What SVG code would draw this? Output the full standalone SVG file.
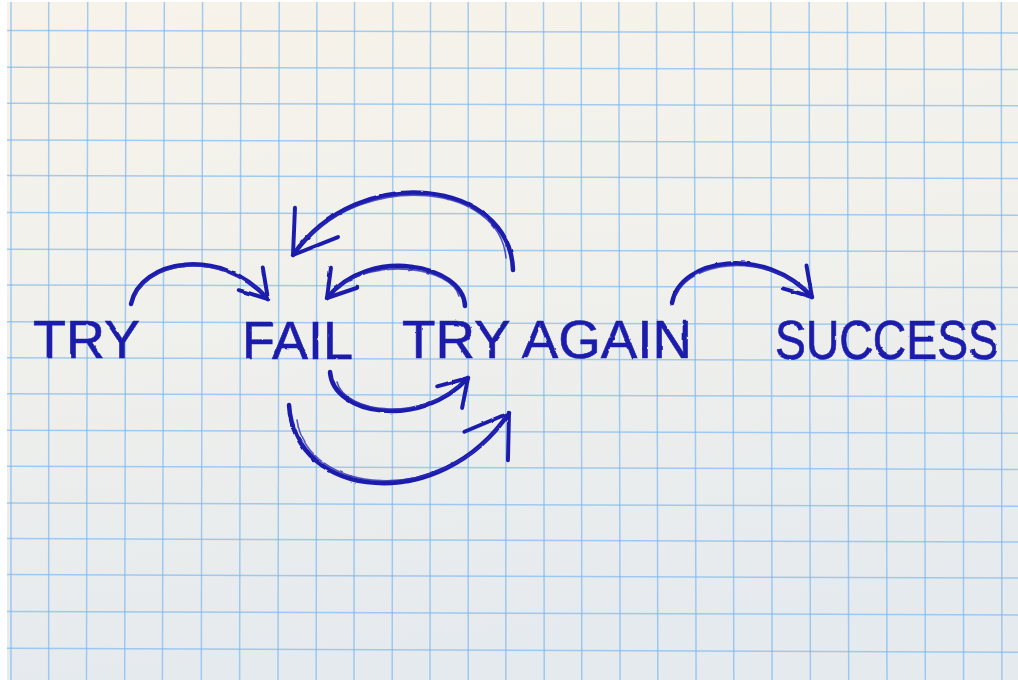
<svg xmlns="http://www.w3.org/2000/svg" width="1018" height="680" viewBox="0 0 1018 680">
  <defs>
    <linearGradient id="paper" x1="0" y1="0" x2="0.15" y2="1">
      <stop offset="0" stop-color="#f7f3ea"/>
      <stop offset="0.5" stop-color="#f0f0ec"/>
      <stop offset="1" stop-color="#e5eaee"/>
    </linearGradient>
    <filter id="rough" x="-10%" y="-10%" width="120%" height="120%">
      <feTurbulence type="fractalNoise" baseFrequency="0.09" numOctaves="2" seed="3" result="n"/>
      <feDisplacementMap in="SourceGraphic" in2="n" scale="2.2" xChannelSelector="R" yChannelSelector="G"/>
    </filter>
    <marker id="head-s" markerUnits="userSpaceOnUse" markerWidth="40" markerHeight="40" viewBox="-34 -20 40 40" refX="0" refY="0" orient="auto" overflow="visible">
      <path d="M-27,-17 L0,0 L-26,16" fill="none" stroke="#1e1eac" stroke-width="4" stroke-linecap="round" stroke-linejoin="round"/>
    </marker>
    <marker id="head-l" markerUnits="userSpaceOnUse" markerWidth="60" markerHeight="60" viewBox="-52 -34 60 68" refX="0" refY="0" orient="auto" overflow="visible">
      <path d="M-46,-30 L0,0 L-45,29" fill="none" stroke="#1e1eac" stroke-width="4.5" stroke-linecap="round" stroke-linejoin="round"/>
    </marker>
    <style>
      .grid line { stroke: #78b6f2; stroke-width: 1.5; opacity: 0.65; }
      .label { font-family: "Liberation Sans", Arial, sans-serif; fill: #1e1eac; stroke: #1e1eac; stroke-width: 0.6; }
      .arc { fill: none; stroke: #1e1eac; stroke-width: 4.5; stroke-linecap: round; }
      .arc2 { fill: none; stroke: #2a2ab8; stroke-width: 1.6; stroke-linecap: round; opacity: 0.8; }
    </style>
  </defs>

  <rect x="0" y="0" width="1018" height="680" fill="#ffffff"/>
  <rect x="7" y="2" width="1011" height="678" fill="url(#paper)"/>

  <g class="grid" id="grid">
    <line x1="11" y1="2" x2="11" y2="680"/>
    <line x1="48.7" y1="2" x2="48.7" y2="680"/>
    <line x1="87.7" y1="2" x2="86.5" y2="680"/>
    <line x1="126" y1="2" x2="124.7" y2="680"/>
    <line x1="164.3" y1="2" x2="162.4" y2="680"/>
    <line x1="202.6" y1="2" x2="201.3" y2="680"/>
    <line x1="240.9" y1="2" x2="239.6" y2="680"/>
    <line x1="279.2" y1="2" x2="278" y2="680"/>
    <line x1="316.9" y1="2" x2="316.2" y2="680"/>
    <line x1="354.5" y1="2" x2="354" y2="680"/>
    <line x1="392.9" y1="2" x2="392.2" y2="680"/>
    <line x1="430.5" y1="2" x2="430" y2="680"/>
    <line x1="468.2" y1="2" x2="468.2" y2="680"/>
    <line x1="505.8" y1="2" x2="505.8" y2="680"/>
    <line x1="543.5" y1="2" x2="544.2" y2="680"/>
    <line x1="581.2" y1="2" x2="581.8" y2="680"/>
    <line x1="618.8" y1="2" x2="620.1" y2="680"/>
    <line x1="656.5" y1="2" x2="657.8" y2="680"/>
    <line x1="694.2" y1="2" x2="696.1" y2="680"/>
    <line x1="732.5" y1="2" x2="733.8" y2="680"/>
    <line x1="770.8" y1="2" x2="772.1" y2="680"/>
    <line x1="809.1" y1="2" x2="810.4" y2="680"/>
    <line x1="847.4" y1="2" x2="848.7" y2="680"/>
    <line x1="885.7" y1="2" x2="887" y2="680"/>
    <line x1="924" y1="2" x2="925.3" y2="680"/>
    <line x1="963" y1="2" x2="963.6" y2="680"/>
    <line x1="1001.3" y1="2" x2="1001.9" y2="680"/>

    <line x1="7" y1="30.4" x2="1018" y2="33"/>
    <line x1="7" y1="67.2" x2="1018" y2="69.5"/>
    <line x1="7" y1="103.2" x2="1018" y2="105.8"/>
    <line x1="7" y1="140.1" x2="1018" y2="142.6"/>
    <line x1="7" y1="175.6" x2="1018" y2="178.4"/>
    <line x1="7" y1="212.5" x2="1018" y2="215.2"/>
    <line x1="7" y1="249.3" x2="1018" y2="251.6"/>
    <line x1="7" y1="284.9" x2="1018" y2="287.6"/>
    <line x1="7" y1="321.8" x2="1018" y2="324.6"/>
    <line x1="7" y1="357.8" x2="1018" y2="360.7"/>
    <line x1="7" y1="393.8" x2="1018" y2="396.8"/>
    <line x1="7" y1="430.2" x2="1018" y2="433.3"/>
    <line x1="7" y1="466.2" x2="1018" y2="469.4"/>
    <line x1="7" y1="503" x2="1018" y2="506.3"/>
    <line x1="7" y1="538.6" x2="1018" y2="542"/>
    <line x1="7" y1="574.6" x2="1018" y2="578.1"/>
    <line x1="7" y1="611.4" x2="1018" y2="615"/>
    <line x1="7" y1="648.3" x2="1018" y2="652.3"/>
  </g>

  <g id="connectors" filter="url(#rough)">
    <!-- TRY -> FAIL -->
    <path class="arc" d="M131,304 C140,260 220,245 268,299" marker-end="url(#head-s)"/>
    <path class="arc2" d="M135,296 C150,262 215,252 262,292"/>
    <!-- TRY AGAIN -> FAIL (large upper) -->
    <path class="arc" d="M513,270 C510,180 360,160 293,255" marker-end="url(#head-l)"/>
    <path class="arc2" d="M506,258 C500,185 370,170 302,243"/>
    <!-- TRY AGAIN -> FAIL (small upper) -->
    <path class="arc" d="M465,305 C462,265 370,245 327,298" marker-end="url(#head-s)"/>
    <path class="arc2" d="M459,296 C452,268 375,255 334,290"/>
    <!-- FAIL -> TRY AGAIN (small lower) -->
    <path class="arc" d="M330,372 C333,415 420,430 468,378" marker-end="url(#head-s)"/>
    <path class="arc2" d="M337,382 C345,413 420,422 460,384"/>
    <!-- FAIL -> TRY AGAIN (large lower) -->
    <path class="arc" d="M289,405 C295,500 440,515 509,413" marker-end="url(#head-l)"/>
    <path class="arc2" d="M297,420 C308,495 440,505 500,425"/>
    <!-- AGAIN -> SUCCESS -->
    <path class="arc" d="M672,303 C680,258 765,245 812,297" marker-end="url(#head-s)"/>
    <path class="arc2" d="M676,295 C690,262 760,252 806,290"/>
  </g>

  <g id="node-try" filter="url(#rough)">
    <text class="label" x="33" y="358" font-size="53" textLength="107" lengthAdjust="spacingAndGlyphs">TRY</text>
  </g>
  <g id="node-fail" filter="url(#rough)">
    <text class="label" x="242" y="359" font-size="53" textLength="111" lengthAdjust="spacingAndGlyphs">FAIL</text>
  </g>
  <g id="node-try-again" filter="url(#rough)">
    <text class="label" x="402" y="358" font-size="53" textLength="290" lengthAdjust="spacingAndGlyphs">TRY AGAIN</text>
  </g>
  <g id="node-success" filter="url(#rough)">
    <text class="label" transform="translate(775,359) scale(1,1.18)" x="0" y="0" font-size="47" textLength="224" lengthAdjust="spacingAndGlyphs">SUCCESS</text>
  </g>
</svg>
